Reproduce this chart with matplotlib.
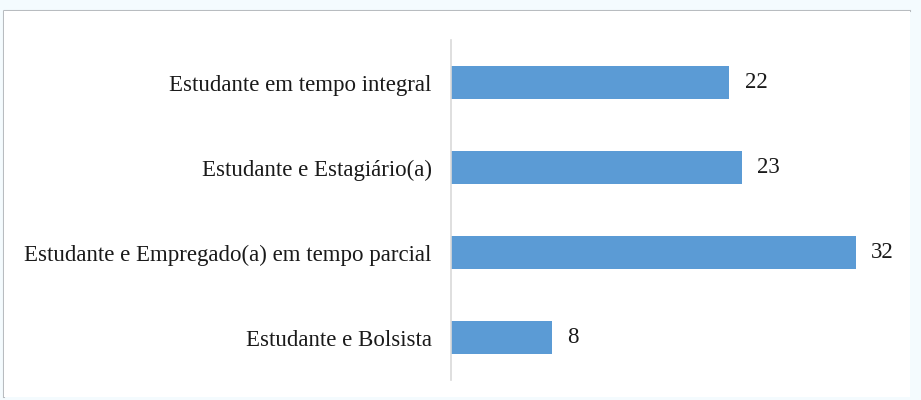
import numpy as np
import matplotlib.pyplot as plt
from matplotlib.patches import Rectangle
from matplotlib.lines import Line2D

categorias = ["Estudante em tempo integral", "Estudante e Estagiário(a)",
              "Estudante e Empregado(a) em tempo parcial", "Estudante e Bolsista"]
valores = [22, 23, 32, 8]

plt.rcParams['font.family'] = ['Liberation Serif', 'DejaVu Serif']

W, H = 921, 400
fig = plt.figure(figsize=(W / 100, H / 100), dpi=100)
fig.patch.set_facecolor('#f4fbfe')

# white panel, grey border on top and left only
fig.patches.append(Rectangle((4 / W, 3 / H), 906 / W, 386 / H, transform=fig.transFigure,
                             facecolor='white', edgecolor='none', zorder=-1))
fig.lines.append(Line2D([4 / W, 4 / W, 910 / W], [3 / H, 389 / H, 389 / H],
                        transform=fig.transFigure, color='#b8bcc0', linewidth=1.5, zorder=-1))

ax = fig.add_axes([451 / W, 20 / H, 443 / W, 340 / H])
ax.set_zorder(2)
ax.set_facecolor('none')
y = np.arange(len(categorias))
ax.barh(y, valores, height=0.39, color='#5b9bd5')
ax.set_ylim(len(categorias) - 0.5, -0.5)
ax.set_xlim(0, 35)
for yi, v in zip(y, valores):
    ax.text(v + 1.2, yi, str(v), va='center', ha='left', fontsize=16.5, color='#1a1a1a')

ax.set_yticks(y)
ax.set_yticklabels(categorias, fontsize=16.5, color='#1a1a1a')
ax.tick_params(axis='y', length=0, pad=14)
ax.set_xticks([])
for s in ['top', 'right', 'bottom']:
    ax.spines[s].set_visible(False)
ax.spines['left'].set_color('#d9d9d9')
ax.spines['left'].set_linewidth(1.2)

fig.savefig('out.png', dpi=100, facecolor=fig.get_facecolor())
